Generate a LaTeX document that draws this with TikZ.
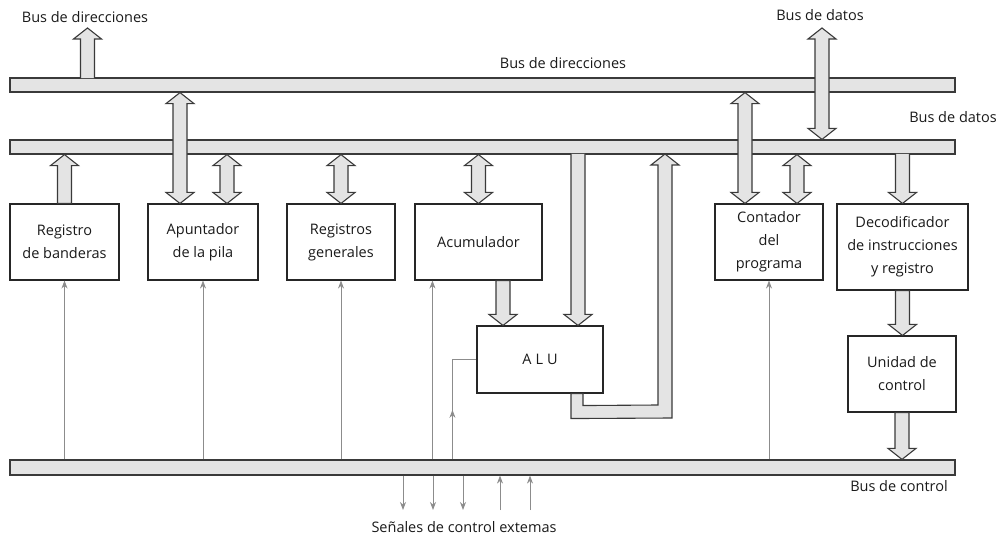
\documentclass[tikz,border=0pt]{standalone}
\usepackage{fontspec}
\setmainfont{Open Sans}
\usetikzlibrary{arrows.meta,calc,decorations.markings}
\definecolor{pipefill}{HTML}{E4E4E4}
\definecolor{pipeline}{HTML}{3A3A3A}
\definecolor{ctrlgray}{HTML}{8C8C8C}
\definecolor{txt}{HTML}{1A1A1A}
\tikzset{
  bus/.style={draw=pipeline, fill=pipefill, line width=1.2pt, inner sep=0pt, minimum height=14pt},
  box/.style={draw=black!85, line width=1.1pt, fill=white, inner sep=0pt, align=center, text=txt},
  pipe/.style={draw=pipeline, fill=pipefill, line width=1.1pt, line join=miter},
  lbl/.style={inner sep=0pt, text=txt},
  ctrl/.style={draw=ctrlgray, line width=0.8pt, -{Stealth[length=8pt,width=6pt]}},
  ctrlline/.style={draw=ctrlgray, line width=0.8pt},
  pipeone/.style={to path={let \p1=(\tikztostart), \p2=(\tikztotarget), \n1={(\y2>\y1)*2-1} in
    ({\x1-7pt},\y1) -- ({\x1-7pt},{\y2-(\n1)*11pt}) -- ({\x1-14pt},{\y2-(\n1)*11pt}) -- (\x1,\y2)
    -- ({\x1+14pt},{\y2-(\n1)*11pt}) -- ({\x1+7pt},{\y2-(\n1)*11pt}) -- ({\x1+7pt},\y1) -- cycle}},
  pipeopen/.style={to path={let \p1=(\tikztostart), \p2=(\tikztotarget), \n1={(\y2>\y1)*2-1} in
    ({\x1-7pt},\y1) -- ({\x1-7pt},{\y2-(\n1)*11pt}) -- ({\x1-14pt},{\y2-(\n1)*11pt}) -- (\x1,\y2)
    -- ({\x1+14pt},{\y2-(\n1)*11pt}) -- ({\x1+7pt},{\y2-(\n1)*11pt}) -- ({\x1+7pt},\y1)}},
  pipetwo/.style={to path={let \p1=(\tikztostart), \p2=(\tikztotarget), \n1={(\y2>\y1)*2-1} in
    (\x1,\y1) -- ({\x1-14pt},{\y1+(\n1)*11pt}) -- ({\x1-7pt},{\y1+(\n1)*11pt})
    -- ({\x1-7pt},{\y2-(\n1)*11pt}) -- ({\x1-14pt},{\y2-(\n1)*11pt}) -- (\x1,\y2)
    -- ({\x1+14pt},{\y2-(\n1)*11pt}) -- ({\x1+7pt},{\y2-(\n1)*11pt})
    -- ({\x1+7pt},{\y1+(\n1)*11pt}) -- ({\x1+14pt},{\y1+(\n1)*11pt}) -- cycle}},
  midarrow/.style={postaction={decorate}, decoration={markings,
    mark=at position 0.4 with {\arrow[ctrlgray]{Stealth[length=8pt,width=6pt]}}}}
}
\begin{document}
\begin{tikzpicture}[x=1pt, y=-1pt, font=\fontsize{14.5}{23}\selectfont]
\useasboundingbox (0,0) rectangle (1005,540);

% buses
\node[bus, minimum width=945pt] (ab) at (482.5,85) {};
\node[bus, minimum width=945pt] (db) at (482.5,147) {};
\node[bus, minimum width=945pt, minimum height=15pt] (cb) at (482.5,467.5) {};

% boxes
\node[box, minimum width=109pt, minimum height=76pt] (rb) at (64.5,242) {Registro\\de banderas};
\node[box, minimum width=110pt, minimum height=76pt] (ap) at (203,242) {Apuntador\\de la pila};
\node[box, minimum width=108pt, minimum height=76pt] (rg) at (341,242) {Registros\\generales};
\node[box, minimum width=127pt, minimum height=76pt] (ac) at (478.5,242) {Acumulador};
\node[box, minimum width=126pt, minimum height=67pt] (alu) at (540,359.5) {A\hspace{4pt}L\hspace{4pt}U};
\node[box, minimum width=108pt, minimum height=76pt] (cp) at (769,242) {Contador\\del\\programa};
\node[box, minimum width=131pt, minimum height=86pt] (dec) at (902.5,247) {Decodificador\\de instrucciones\\y registro};
\node[box, minimum width=108pt, minimum height=76pt] (uc) at (902,374) {Unidad de\\control};

% labels
\node[lbl] (l1) at (85,17) {Bus de direcciones};
\node[lbl] (l2) at (820,15) {Bus de datos};
\node[lbl] (l3) at (563,63) {Bus de direcciones};
\node[lbl] (l4) at (953,117) {Bus de datos};
\node[lbl] (l5) at (899,486) {Bus de control};
\node[lbl] (l6) at (464,527) {Señales de control extemas};

% helper coordinates
\coordinate (adrOut) at (87.5,28);
\coordinate (datOut) at (822,28);
\coordinate (p1) at ($(ap.north)+(-23,0)$);
\coordinate (p2) at ($(ap.north)+(24,0)$);
\coordinate (p3) at ($(cp.north)+(-24,0)$);
\coordinate (p4) at ($(cp.north)+(28,0)$);
\coordinate (p5) at ($(alu.north)+(38,0)$);
\coordinate (p6) at ($(alu.north)+(-37,0)$);

% pipes
\draw[pipe] ($(adrOut |- ab.north)+(0,0.8)$) to[pipeopen] (adrOut);
\draw[pipe] (rb.north) to[pipeone] (rb.north |- db.south);
\draw[pipe] (p1 |- ab.south) to[pipetwo] (p1);
\draw[pipe] (p2 |- db.south) to[pipetwo] (p2);
\draw[pipe] (rg.north |- db.south) to[pipetwo] (rg.north);
\draw[pipe] (ac.north |- db.south) to[pipetwo] (ac.north);
\draw[pipe] ($(p5 |- db.south)+(0,-0.8)$) to[pipeopen] (p5);
\draw[pipe] (p6 |- ac.south) to[pipeone] (p6);
\draw[pipe] (p3 |- ab.south) to[pipetwo] (p3);
\draw[pipe] (p4 |- db.south) to[pipetwo] (p4);
\draw[pipe] (datOut) to[pipetwo] (datOut |- db.north);
\draw[pipe] ($(dec.north |- db.south)+(0,-0.8)$) to[pipeopen] (dec.north);
\draw[pipe] (dec.south) to[pipeone] (dec.south |- uc.north);
\draw[pipe] (uc.south) to[pipeone] (uc.south |- cb.north);
% ALU output back to data bus
\draw[pipe] ([xshift=31pt]alu.south) -- ++(0,25) -- (672,418) -- (672,165) -- (679,165)
  -- (665,154) -- (651,165) -- (658,165) -- (658,405) -- ($(alu.south)+(43,12)$)
  -- ([xshift=43pt]alu.south) -- cycle;

% control lines
\draw[ctrl] (rb.south |- cb.north) -- (rb.south);
\draw[ctrl] (ap.south |- cb.north) -- (ap.south);
\draw[ctrl] (rg.south |- cb.north) -- (rg.south);
\coordinate (acc) at ($(ac.south west)+(18,0)$);
\draw[ctrl] (acc |- cb.north) -- (acc);
\draw[ctrl] (cp.south |- cb.north) -- (cp.south);
\coordinate (aluc) at ($(alu.west)+(-24,0)$);
\draw[ctrlline, midarrow] (aluc |- cb.north) |- (alu.west);

% external control signals
\coordinate (s1) at (403,510);
\coordinate (s2) at (433,510);
\coordinate (s3) at (463,510);
\coordinate (s4) at (500,510);
\coordinate (s5) at (530,510);
\draw[ctrl] (s1 |- cb.south) -- (s1);
\draw[ctrl] (s2 |- cb.south) -- (s2);
\draw[ctrl] (s3 |- cb.south) -- (s3);
\draw[ctrl] (s4) -- (s4 |- cb.south);
\draw[ctrl] (s5) -- (s5 |- cb.south);
\end{tikzpicture}
\end{document}
